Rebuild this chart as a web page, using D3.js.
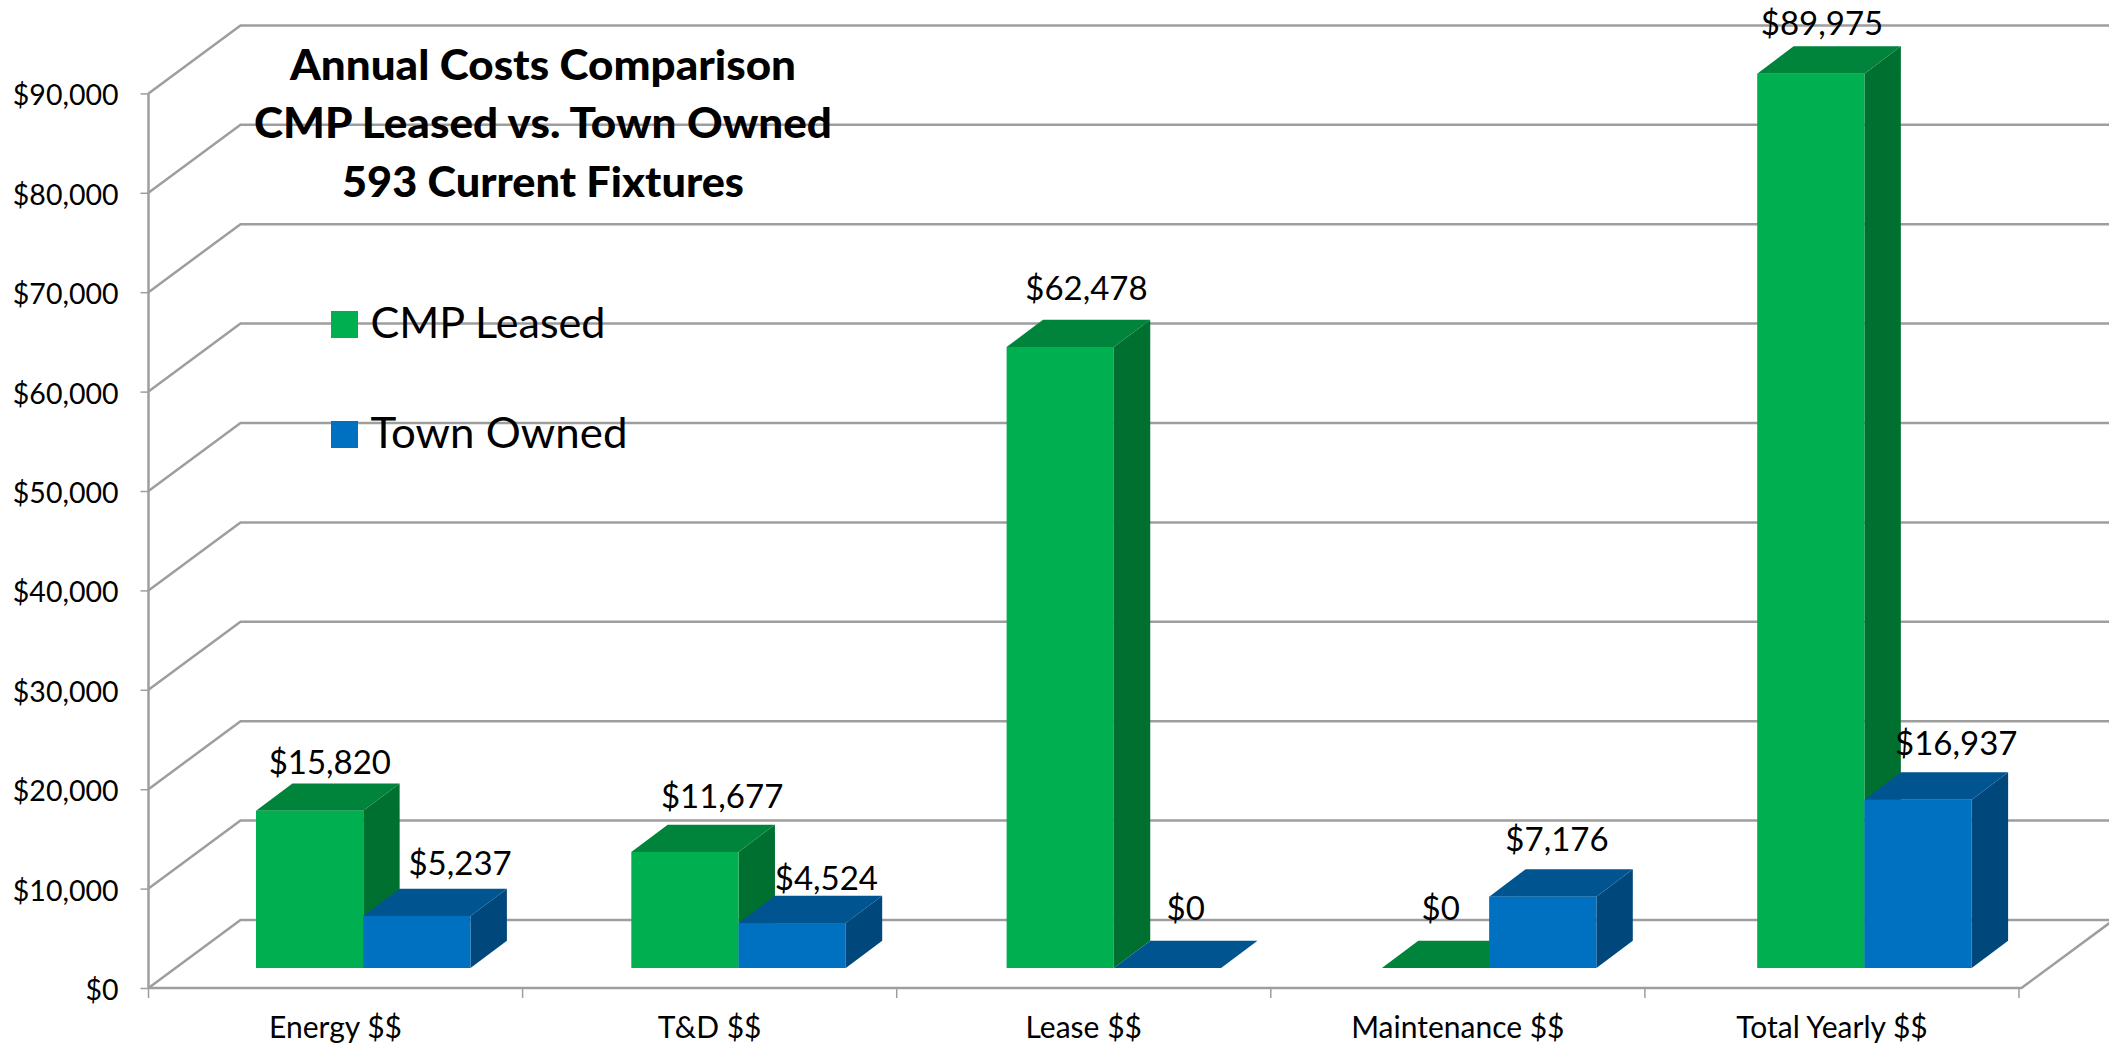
<!DOCTYPE html>
<meta charset="utf-8">
<style>
  body { margin: 0; background: #fff; }
  text { font-family: Lato, "Open Sans", sans-serif; fill: #000; }
  .grid { fill: none; stroke: #9e9e9e; stroke-width: 2.5px; }
  .axis path { display: none; }
  .axis line { stroke: #9e9e9e; stroke-width: 1.5px; }
  .axis text { font-family: Lato, sans-serif; fill: #000; }
  .title { font-weight: 900; font-size: 42px; text-anchor: middle; }
  .label { font-size: 33px; text-anchor: middle; }
  .legend { font-size: 43px; }
</style>
<script src="https://cdn.jsdelivr.net/npm/d3@7"></script>
<svg id="chart" width="2109" height="1048"></svg>
<script>
  var categories = ["Energy $$", "T&D $$", "Lease $$", "Maintenance $$", "Total Yearly $$"];
  var seriesNames = ["CMP Leased", "Town Owned"];
  var cmpLeased = [15820, 11677, 62478, 0, 89975];
  var townOwned = [5237, 4524, 0, 7176, 16937];
  var yTicks = [0, 10000, 20000, 30000, 40000, 50000, 60000, 70000, 80000, 90000];
  var titleLines = ["Annual Costs Comparison", "CMP Leased vs. Town Owned", "593 Current Fixtures"];

  var colors = {
    "CMP Leased": { front: "#00b050", top: "#00843c", side: "#007030" },
    "Town Owned": { front: "#0070c0", top: "#005590", side: "#00487c" }
  };

  var svg = d3.select("#chart");

  // plot geometry, a flat front plane plus a skew for the "3d" depth
  var left = 148.5, right = 2019, floorRight = 2021.5;
  var depthX = 92, depthY = 68;
  var barDepthX = 36.4, barDepthY = 27.3;
  var baseY = 968;

  var x = d3.scaleBand().domain(categories).range([left, right]);
  var xBars = d3.scaleBand().domain(categories).range([256, 2132.5]);
  var xSeries = d3.scaleBand().domain(seriesNames).range([0, 214.5]);
  var y = d3.scaleLinear().domain([0, 90000]).range([988, 93.4]);
  var money = function(d) { return "$" + d3.format(",")(d); };

  // -----------------------------------
  // back wall + left wall gridlines
  var line = d3.line();
  svg.append("g").selectAll("path")
    .data(yTicks)
    .join("path")
    .attr("class", "grid")
    .attr("d", function(d) {
      return line([[left, y(d)], [left + depthX, y(d) - depthY], [2109 + 5, y(d) - depthY]]);
    });

  // floor front edge and its right side, y axis line
  svg.append("path").attr("class", "grid")
    .attr("d", line([[left, y(0)], [floorRight, y(0)], [floorRight + depthX, y(0) - depthY]]));
  svg.append("path").attr("class", "grid")
    .attr("d", line([[left, y(90000)], [left, y(0)]]));

  // axes
  var yAxis = d3.axisLeft(y).tickValues(yTicks).tickFormat(money).tickSize(8).tickPadding(22);
  var gy = svg.append("g").attr("class", "axis").attr("transform", "translate(" + left + ",0)").call(yAxis);
  gy.selectAll("text").attr("font-size", 28.5).attr("dy", "0.4em");

  var xAxis = d3.axisBottom(x).tickSize(0).tickPadding(0);
  var gx = svg.append("g").attr("class", "axis").attr("transform", "translate(0," + y(0) + ")").call(xAxis);
  gx.selectAll("text").attr("font-size", 30).attr("y", 50).attr("dy", 0);

  svg.append("g").attr("class", "axis").selectAll("line")
    .data(d3.range(categories.length + 1))
    .join("line")
    .attr("x1", function(i) { return left + i * x.step(); })
    .attr("x2", function(i) { return left + i * x.step(); })
    .attr("y1", y(0))
    .attr("y2", y(0) + 10);

  // bars: one group per category, green first so blue overlaps its side
  var rows = categories.map(function(c, i) {
    return { category: c, values: [
      { name: seriesNames[0], value: cmpLeased[i] },
      { name: seriesNames[1], value: townOwned[i] }
    ] };
  });

  var barH = function(v) { return y(0) - y(v); };

  var bars = svg.append("g").selectAll("g")
    .data(rows)
    .join("g")
    .attr("transform", function(d) { return "translate(" + xBars(d.category) + ",0)"; })
    .selectAll("g")
    .data(function(d) { return d.values; })
    .join("g")
    .attr("transform", function(d) { return "translate(" + xSeries(d.name) + ",0)"; });

  var w = xSeries.bandwidth();

  bars.append("path")
    .attr("fill", function(d) { return colors[d.name].side; })
    .attr("d", function(d) {
      var t = baseY - barH(d.value);
      return line([[w, t], [w + barDepthX, t - barDepthY], [w + barDepthX, baseY - barDepthY], [w, baseY]]) + "Z";
    });
  bars.append("path")
    .attr("fill", function(d) { return colors[d.name].top; })
    .attr("d", function(d) {
      var t = baseY - barH(d.value);
      return line([[0, t], [barDepthX, t - barDepthY], [w + barDepthX, t - barDepthY], [w, t]]) + "Z";
    });
  bars.append("rect")
    .attr("fill", function(d) { return colors[d.name].front; })
    .attr("x", 0)
    .attr("width", w)
    .attr("y", function(d) { return baseY - barH(d.value); })
    .attr("height", function(d) { return barH(d.value); });

  // data labels were hand placed in the original, so nudge each one (cmp, town)
  var nudges = [
    [[2, 1], [25, -4]],
    [[19, -7], [16, 4]],
    [[8, -10], [0, -11]],
    [[-13, -11], [-4, -8]],
    [[-7, -1], [20, -7]]
  ];
  rows.forEach(function(row, i) {
    row.values.forEach(function(d, j) {
      svg.append("text")
        .attr("class", "label")
        .attr("x", xBars(row.category) + xSeries(d.name) + w / 2 + barDepthX / 2 + nudges[i][j][0])
        .attr("y", baseY - barH(d.value) - barDepthY - 10 + nudges[i][j][1])
        .text(money(d.value));
    });
  });

  // title
  var titleY = [80, 138, 197];
  var titleW = [506, 578, 402];
  svg.append("g").selectAll("text")
    .data(titleLines)
    .join("text")
    .attr("class", "title")
    .attr("x", 543)
    .attr("y", function(d, i) { return titleY[i]; })
    .attr("textLength", function(d, i) { return titleW[i]; })
    .attr("lengthAdjust", "spacingAndGlyphs")
    .text(function(d) { return d; });

  // legend
  var legendY = d3.scalePoint().domain(seriesNames).range([338, 448]);
  var legendW = [235, 257];
  var legend = svg.append("g").selectAll("g")
    .data(seriesNames)
    .join("g")
    .attr("transform", function(d) { return "translate(331," + legendY(d) + ")"; });
  legend.append("rect")
    .attr("y", -27)
    .attr("width", 27)
    .attr("height", 27)
    .attr("fill", function(d) { return colors[d].front; });
  legend.append("text")
    .attr("class", "legend")
    .attr("x", 39.5)
    .attr("textLength", function(d, i) { return legendW[i]; })
    .attr("lengthAdjust", "spacingAndGlyphs")
    .text(function(d) { return d; });
</script>
